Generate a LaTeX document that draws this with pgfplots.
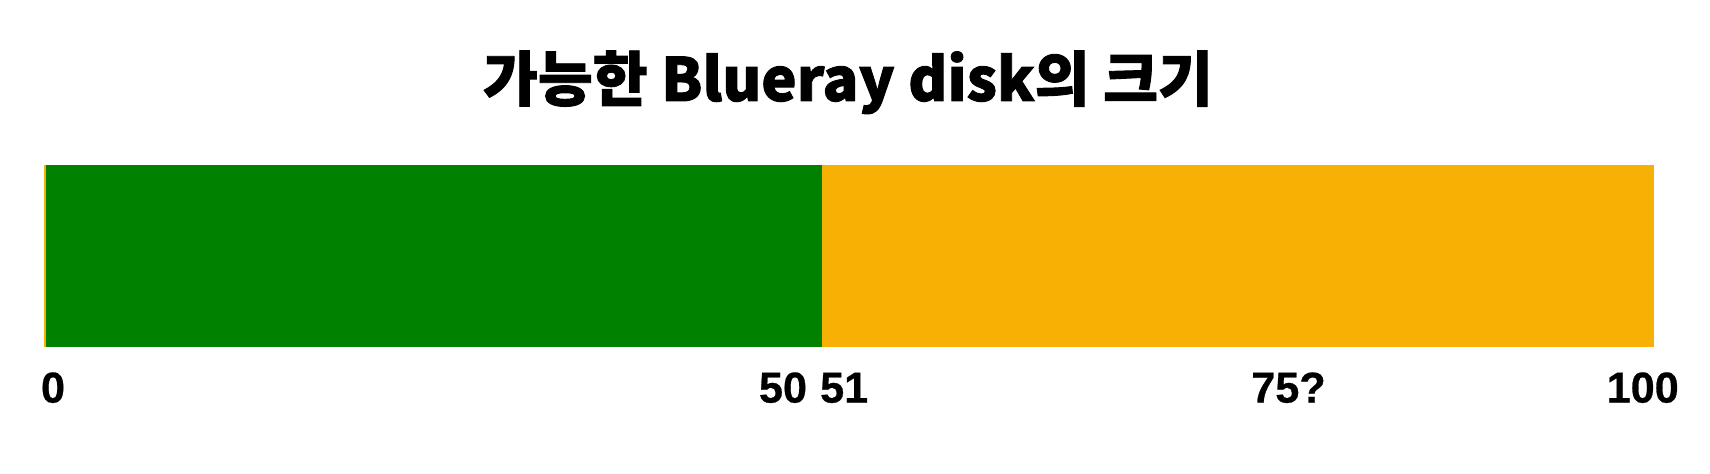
\documentclass[border=0pt]{standalone}
\usepackage{pgfplots}
\pgfplotsset{compat=1.18}
\usepackage{fontspec}
\setmainfont{Liberation Sans}
\newfontfamily\krfont[FakeBold=1.5]{Noto Sans CJK KR Black}
\newfontfamily\numfont[FakeBold=0.6]{Liberation Sans Bold}
\definecolor{bargreen}{RGB}{0,130,0}
\definecolor{barorange}{RGB}{247,176,4}
\begin{document}
\begin{tikzpicture}
\path[use as bounding box] (-22pt,-63.5pt) rectangle (833pt,173.5pt);
\begin{axis}[
  at={(0,0)}, anchor=south west,
  scale only axis,
  width=805pt, height=91pt,
  xbar stacked,
  bar width=1,
  xmin=0, xmax=100,
  ymin=-0.5, ymax=0.5,
  axis line style={draw=none},
  tick style={draw=none},
  ytick=\empty,
  xtick={0.56,45.9,49.7,77.3,99.3},
  xticklabels={0,50,51,75?,100},
  xticklabel style={font=\numfont\fontsize{21.6}{24}\selectfont, anchor=base, yshift=-27.8pt},
  clip=false,
]
\addplot[fill=barorange, draw=none] coordinates {(0.12,0)};
\addplot[fill=bargreen, draw=none] coordinates {(48.2,0)};
\addplot[fill=barorange, draw=none] coordinates {(51.68,0)};
\end{axis}
\node[anchor=base, inner sep=0pt, font=\krfont\fontsize{29.8}{32}\selectfont] at (402pt,123pt) {가능한 Blueray disk의 크기};
\end{tikzpicture}
\end{document}
